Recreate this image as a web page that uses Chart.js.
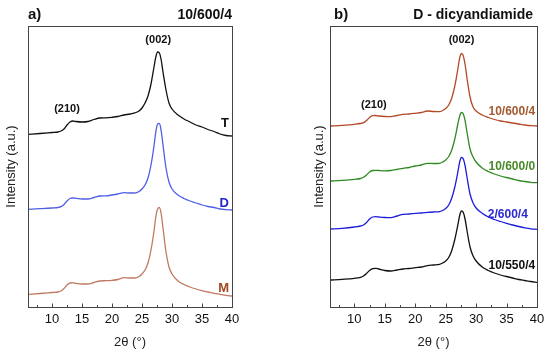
<!DOCTYPE html>
<html>
<head>
<meta charset="utf-8">
<script src="https://cdn.jsdelivr.net/npm/chart.js@4.4.1/dist/chart.umd.min.js"></script>
<style>
html, body { margin: 0; padding: 0; background: #fff; }
#wrap { position: relative; width: 550px; height: 354px; }
canvas { position: absolute; top: 0; }
</style>
</head>
<body>
<div id="wrap">
  <canvas id="chartA" width="275" height="354" style="left:0"></canvas>
  <canvas id="chartB" width="275" height="354" style="left:275px"></canvas>
</div>
<script>
// 2theta grid (deg), denser around the (002) peak
const twoTheta = [6, 8, 10, 11, 11.5, 12, 12.5, 13, 13.5, 14, 15, 16, 17, 18, 19, 20, 21, 22, 23, 24, 24.5, 25, 25.5, 26, 26.5, 27, 27.3, 27.6, 27.9, 28.2, 28.5, 29, 29.5, 30, 31, 32, 33, 34, 35, 36, 37, 38, 39, 40];

// panel a) 10/600/4, stacked intensities (a.u.)
const seriesT = [172.7, 173.5, 174.5, 175, 176, 178, 182, 185, 186, 185.5, 185, 185.5, 187.5, 189, 189.2, 189.7, 190.5, 192, 193, 194.5, 196, 199, 204, 211, 223, 240, 250, 255, 254, 247, 235, 217, 204, 198, 192, 188, 185, 182, 180, 177.5, 175.5, 173, 171.5, 171];
const seriesD = [97.7, 98.3, 99, 99.5, 100.3, 102.5, 106, 108.5, 109, 108.7, 108, 108, 109.5, 111, 111.2, 112, 113, 114.3, 114, 114.2, 115.5, 118, 122, 129, 142, 161, 175, 183, 183.5, 176, 162, 139, 125, 118, 112, 108.5, 106, 104, 102, 100.5, 99.5, 98, 97.3, 97];
const seriesM = [12.7, 13.5, 14.5, 15, 16, 18.5, 22, 24, 24.2, 23.7, 23, 23, 24.5, 26, 26.3, 26.7, 27.5, 29.3, 29, 29.2, 30.5, 33, 37, 44, 57, 76, 90, 98, 99.5, 93, 79, 55, 40, 33, 26, 22.5, 20, 18, 16.3, 15, 13.7, 12.7, 11.7, 11];

// panel b) D - dicyandiamide
const series10_600_4 = [181, 181.7, 182.7, 183.5, 184.3, 186.5, 189.5, 191.3, 191.5, 191, 190.5, 190.3, 191.5, 192.7, 193, 193.7, 194.5, 196, 195.5, 195.3, 196.5, 198.5, 202, 209, 221, 238, 249, 253.5, 251, 242, 229, 210, 200, 196, 192, 189.5, 187.5, 186, 185, 184, 183, 182, 181.3, 181];
const series10_600_0 = [126, 126.7, 127.7, 128.5, 129.7, 132, 135, 136.5, 136.7, 136.5, 136.2, 136.5, 137.5, 138.7, 139.5, 141, 142, 143.7, 143.5, 143.7, 145, 147, 150.5, 157, 168, 183, 191, 194.5, 193, 186, 175, 158, 150, 145, 139, 135.5, 133, 131, 129.5, 128, 126.5, 125.5, 124.7, 124.3];
const series2_600_4 = [78, 78.7, 80, 81, 82, 84.5, 88, 90, 90.3, 90, 89.5, 89.3, 91, 92.7, 93, 93.7, 94, 94.7, 95, 95.3, 96.5, 98.5, 102, 109, 120, 135, 145, 149.5, 148, 141, 130, 113, 104, 99, 93.7, 90, 87.5, 85.5, 83.7, 82, 80.5, 79.2, 78.2, 77.7];
const series10_550_4 = [27, 27.7, 28.7, 29.7, 31, 33.5, 36.5, 38.3, 38.7, 38, 36.5, 36, 37, 38, 38.5, 39.3, 40, 41.3, 42, 42.7, 44, 46, 49.5, 56.5, 67.5, 82, 91.5, 96, 94.5, 87.5, 76.5, 60, 51, 46, 40, 36.5, 34, 32, 30.5, 29, 27.5, 26.5, 25.5, 24.7];

Chart.defaults.font.family = "'Liberation Sans', Arial, sans-serif";
Chart.defaults.color = '#111';

const toPoints = vals => vals.map((v, i) => ({ x: twoTheta[i], y: v }));

const line = (vals, color, width) => ({
  data: toPoints(vals),
  borderColor: color,
  borderWidth: width || 1.3,
  pointRadius: 0,
  fill: false,
  cubicInterpolationMode: 'monotone'
});

// frame, inward ticks (major + half-step minor), text notes
const notesPlugin = {
  id: 'xrdNotes',
  afterDraw(chart, args, opts) {
    const { ctx, chartArea: a, scales } = chart;
    const x = scales.x;
    ctx.save();
    ctx.strokeStyle = '#444';
    ctx.lineWidth = 1;
    const bottom = Math.round(a.bottom) + 0.5;
    ctx.strokeRect(Math.round(a.left) + 0.5, Math.round(a.top) + 0.5, Math.round(a.right - a.left), Math.round(a.bottom - a.top));
    ctx.beginPath();
    x.ticks.forEach(t => {
      [[t.value, 4], [t.value - 2.5, 2.5]].forEach(([v, len]) => {
        if (v <= x.min || v >= x.max) return;
        const px = Math.round(x.getPixelForValue(v)) + 0.5;
        ctx.moveTo(px, bottom);
        ctx.lineTo(px, bottom - len);
      });
    });
    ctx.stroke();
    ctx.textBaseline = 'middle';
    (opts.heads || []).forEach(h => {
      ctx.font = 'bold ' + h.size + 'px "Liberation Sans", Arial, sans-serif';
      ctx.fillStyle = '#111';
      ctx.textAlign = h.align;
      ctx.fillText(h.text, h.align === 'left' ? a.left + (h.dx || 0) : a.right + (h.dx || 0), a.top - 11);
    });
    (opts.notes || []).forEach(n => {
      ctx.font = 'bold ' + n.size + 'px "Liberation Sans", Arial, sans-serif';
      ctx.fillStyle = n.color || '#111';
      ctx.textAlign = n.align || 'center';
      ctx.fillText(n.text, x.getPixelForValue(n.x), scales.y.getPixelForValue(n.y));
    });
    ctx.restore();
  }
};

function makeChart(id, datasets, pad, yWidth, notes) {
  return new Chart(document.getElementById(id), {
    type: 'line',
    data: { datasets },
    plugins: [notesPlugin],
    options: {
      responsive: false,
      animation: false,
      layout: { padding: pad },
      plugins: {
        legend: { display: false },
        tooltip: { enabled: false },
        xrdNotes: notes
      },
      scales: {
        x: {
          type: 'linear', position: 'bottom', min: 6, max: 40,
          ticks: { stepSize: 5, includeBounds: false, padding: -3, maxRotation: 0, font: { size: 13 }, color: '#111' },
          grid: { display: false },
          border: { display: false },
          title: { display: true, text: '2θ (°)', font: { size: 13 }, padding: 0, color: '#222' },
          afterFit: s => { s.height = 354 - pad.bottom - 307; }
        },
        y: {
          min: 0, max: 281,
          ticks: { display: false },
          grid: { display: false },
          border: { display: false },
          title: { display: true, text: 'Intensity (a.u.)', font: { size: 13 }, padding: 0, color: '#222' },
          afterFit: s => { s.width = yWidth; }
        }
      }
    }
  });
}

makeChart('chartA', [
  line(seriesT, '#111'),
  line(seriesD, '#4f5fe6'),
  line(seriesM, '#c07a62')
], { left: 4, right: 43, top: 26, bottom: 4 }, 24, {
  heads: [
    { text: 'a)', size: 15, align: 'left', dx: 0 },
    { text: '10/600/4', size: 14, align: 'right', dx: 0 }
  ],
  notes: [
    { text: '(002)', x: 27.7, y: 267, size: 11 },
    { text: '(210)', x: 12.5, y: 198, size: 11 },
    { text: 'T', x: 39.5, y: 184, size: 13, align: 'right' },
    { text: 'D', x: 39.5, y: 104, size: 13, align: 'right', color: '#2323c8' },
    { text: 'M', x: 39.5, y: 19, size: 13, align: 'right', color: '#a0461e' }
  ]
});

makeChart('chartB', [
  line(series10_600_4, '#b24a28'),
  line(series10_600_0, '#2f8a22'),
  line(series2_600_4, '#1c1cdc'),
  line(series10_550_4, '#111')
], { left: 37, right: 13, top: 26, bottom: 4 }, 18, {
  heads: [
    { text: 'b)', size: 15, align: 'left', dx: 4 },
    { text: 'D - dicyandiamide', size: 14, align: 'right', dx: -4 }
  ],
  notes: [
    { text: '(002)', x: 27.6, y: 267, size: 11 },
    { text: '(210)', x: 13.2, y: 202, size: 11 },
    { text: '10/600/4', x: 39.7, y: 195, size: 12, align: 'right', color: '#a35a30' },
    { text: '10/600/0', x: 39.7, y: 140, size: 12, align: 'right', color: '#4a8a2a' },
    { text: '2/600/4', x: 38.5, y: 92, size: 12, align: 'right', color: '#2a2ad0' },
    { text: '10/550/4', x: 39.7, y: 41, size: 12, align: 'right', color: '#111' }
  ]
});
</script>
</body>
</html>
